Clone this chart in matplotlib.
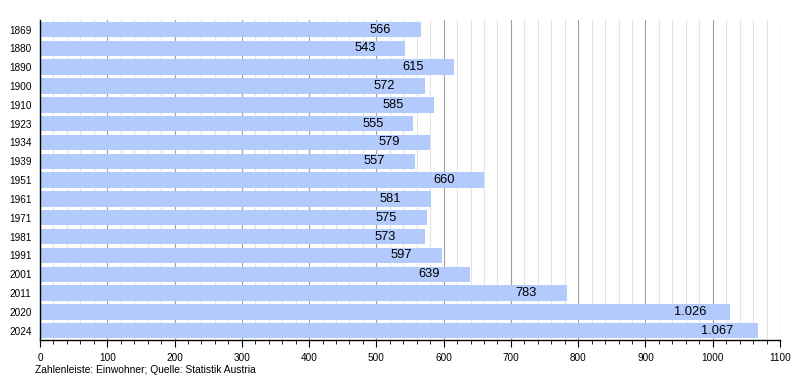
import matplotlib
matplotlib.use("Agg")
import matplotlib.pyplot as plt
from matplotlib.ticker import MultipleLocator

plt.rcParams['font.family'] = ['Liberation Sans', 'DejaVu Sans']

# Einwohnerentwicklung
years = ["1869", "1880", "1890", "1900", "1910", "1923", "1934", "1939", "1951",
         "1961", "1971", "1981", "1991", "2001", "2011", "2020", "2024"]
population = [566, 543, 615, 572, 585, 555, 579, 557, 660,
              581, 575, 573, 597, 639, 783, 1026, 1067]


def fmt(v):
    # deutsche Tausendertrennung
    return "{:,}".format(v).replace(",", ".")


fig = plt.figure(figsize=(8, 3.8), dpi=100)
ax = fig.add_axes([0.05, 0.105, 0.925, 0.842])

pos = list(range(len(years)))
ax.barh(pos, population, height=0.82, color="#b3cbfc", zorder=2)

for p, v in zip(pos, population):
    ax.text(v - 60, p, fmt(v), ha="center", va="center", fontsize=9.3, color="#000000", zorder=3)

ax.set_xlim(0, 1100)
ax.set_ylim(len(years) - 0.5, -0.5)
ax.set_yticks(pos)
ax.set_yticklabels(years, fontsize=7.2)
ax.tick_params(axis="y", length=0, pad=6)

ax.xaxis.set_major_locator(MultipleLocator(100))
ax.xaxis.set_minor_locator(MultipleLocator(20))
ax.tick_params(axis="x", which="major", length=5, labelsize=7.2, direction="out", pad=4)
ax.tick_params(axis="x", which="minor", length=3, direction="out")
ax.grid(axis="x", which="major", color="#a0a0a0", linewidth=0.8, zorder=0)
ax.grid(axis="x", which="minor", color="#e2e2e2", linewidth=0.8, zorder=0)
ax.set_axisbelow(True)

for s in ["top", "right"]:
    ax.spines[s].set_visible(False)
ax.spines["left"].set_linewidth(1)
ax.spines["bottom"].set_linewidth(1)

fig.text(0.044, 0.027, "Zahlenleiste: Einwohner; Quelle: Statistik Austria", fontsize=7.4, ha="left", va="center")

fig.savefig("out.png", dpi=100)
